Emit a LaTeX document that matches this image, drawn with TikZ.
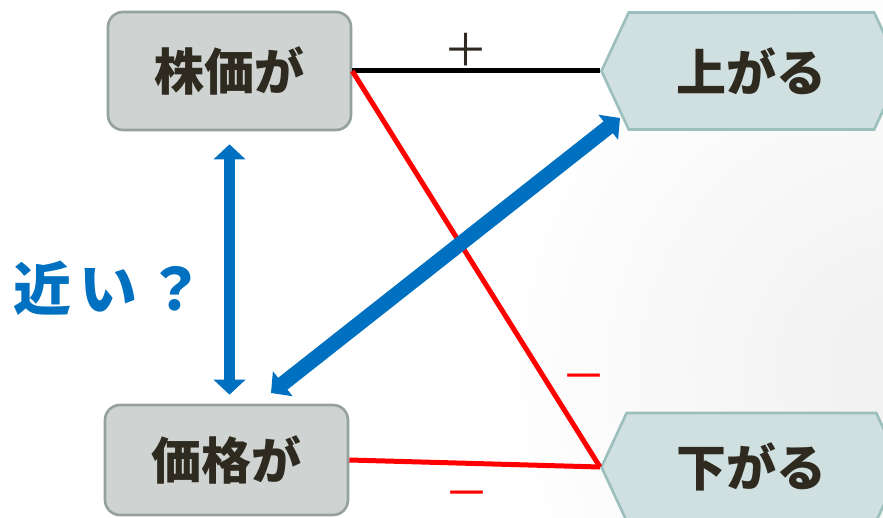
\documentclass[tikz,border=0pt]{standalone}
\usepackage{fontspec}
\usetikzlibrary{arrows.meta,shapes.symbols}
\newfontfamily\jpfont{Noto Sans CJK JP}
\definecolor{boxfill}{HTML}{CFD4D2}
\definecolor{boxline}{HTML}{94A19C}
\definecolor{hexfill}{HTML}{D0DFDF}
\definecolor{hexline}{HTML}{9BBFBD}
\definecolor{ink}{HTML}{2E2A1F}
\definecolor{nearblue}{HTML}{0070C0}
\definecolor{minus}{HTML}{FF0000}
\newcommand{\boxfont}{\jpfont\bfseries\fontsize{50}{58}\selectfont}
\newcommand{\askfont}{\jpfont\bfseries\fontsize{58}{64}\selectfont}
\newcommand{\signfont}{\jpfont\fontsize{45}{50}\selectfont}

\begin{document}
\begin{tikzpicture}[x=1pt,y=-1pt,
  stock/.style={draw=boxline,fill=boxfill,line width=2.6pt,rounded corners=15pt,
    minimum width=243pt,inner sep=0,text=ink,font=\boxfont},
  move/.style={draw=hexline,fill=hexfill,line width=2.6pt,signal,
    signal to=west and east,signal pointer angle=130,minimum width=300pt,inner sep=0,
    text=ink,font=\boxfont},
  link/.style={line width=5pt},
  near/.style={nearblue,{Triangle[length=15pt,width=31pt]}-{Triangle[length=15pt,width=31pt]}}]
\useasboundingbox (0,0) rectangle (883,518);
\shade[inner color=black!6,outer color=white] (905,370) circle (420);
% boxes
\node[stock,minimum height=118pt] (kabuka) at (229.5,71) {株価が};
\node[stock,minimum height=110pt] (kakaku) at (226.5,460) {価格が};
\node[move,minimum height=117pt,anchor=west] (agaru) at (600,71) {上がる};
\node[move,minimum height=108pt,anchor=west] (sagaru) at (600,467) {下がる};
% links
\draw[link,black] (kabuka.east) -- (agaru.west);
\draw[link,minus] (kabuka.east) -- (sagaru.west);
\draw[link,minus] (kakaku.east) -- (sagaru.west);
\node[inner sep=0,text=ink,font=\signfont] (plus) at (466,50) {＋};
\node[inner sep=0,text=minus,font=\signfont] (minusa) at (584,383) {－};
\node[inner sep=0,text=minus,font=\signfont] (minusb) at (467,500) {－};
% arrows
\draw[near,line width=11pt,shorten <=13pt,shorten >=9pt] (kabuka.south) -- (kabuka.south |- kakaku.north);
\coordinate (hi) at (620,118);
\coordinate (lo) at (271,393);
\draw[near,line width=15pt] (hi) -- (lo);
\node[inner sep=0,text=nearblue,font=\askfont] (ask) at (109,288) {近\hspace{9pt}い\hspace{9pt}？};
\end{tikzpicture}
\end{document}
